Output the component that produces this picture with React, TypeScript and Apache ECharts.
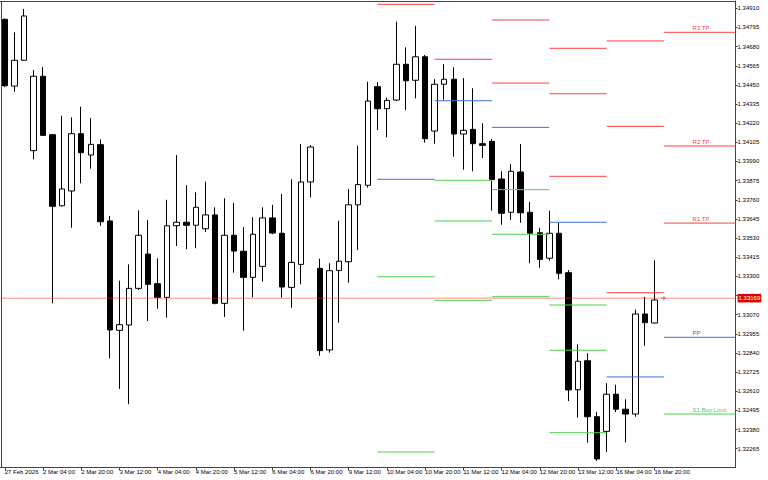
import React, { useEffect, useRef } from "react";
import * as echarts from "echarts";

const FONT = '"Liberation Sans", Arial, sans-serif';

// H4 candles: [open, high, low, close]
const candles: [number, number, number, number][] = [
  [1.34844, 1.3485, 1.34437, 1.34445],
  [1.34443, 1.34766, 1.34409, 1.34598],
  [1.34598, 1.34906, 1.34594, 1.34864],
  [1.34055, 1.34539, 1.34003, 1.34502],
  [1.34502, 1.34557, 1.34143, 1.34147],
  [1.34151, 1.34155, 1.33138, 1.33721],
  [1.33724, 1.34265, 1.3372, 1.33825],
  [1.33813, 1.34255, 1.33592, 1.34157],
  [1.34157, 1.34319, 1.33859, 1.34043],
  [1.34029, 1.34251, 1.33947, 1.34093],
  [1.34091, 1.34123, 1.33604, 1.33628],
  [1.33633, 1.33663, 1.32808, 1.32978],
  [1.32976, 1.33274, 1.32624, 1.3301],
  [1.33008, 1.33372, 1.32532, 1.33228],
  [1.33228, 1.33697, 1.33218, 1.33547],
  [1.33434, 1.33639, 1.33032, 1.33252],
  [1.33256, 1.33409, 1.33106, 1.33174],
  [1.33174, 1.3376, 1.33052, 1.33604],
  [1.33604, 1.34029, 1.33482, 1.33625],
  [1.33625, 1.33847, 1.33463, 1.33607],
  [1.33607, 1.33805, 1.33469, 1.33715],
  [1.33586, 1.33869, 1.33566, 1.33669],
  [1.33669, 1.33715, 1.33132, 1.33138],
  [1.33138, 1.33769, 1.33056, 1.33547],
  [1.33547, 1.33741, 1.33322, 1.33452],
  [1.33451, 1.33596, 1.32974, 1.33294],
  [1.33294, 1.33655, 1.33174, 1.33553],
  [1.3336, 1.33715, 1.33268, 1.33651],
  [1.33651, 1.3373, 1.33553, 1.3356],
  [1.33559, 1.33795, 1.33172, 1.33236],
  [1.33234, 1.33883, 1.33112, 1.33384],
  [1.33372, 1.34095, 1.33252, 1.33867],
  [1.33867, 1.34089, 1.33775, 1.34077],
  [1.33348, 1.33406, 1.32824, 1.32854],
  [1.32858, 1.33379, 1.32842, 1.33334],
  [1.33336, 1.33634, 1.33022, 1.33391],
  [1.33388, 1.33825, 1.33262, 1.3373],
  [1.3373, 1.34085, 1.33458, 1.33851],
  [1.33847, 1.34469, 1.33833, 1.34353],
  [1.34439, 1.34467, 1.34179, 1.34307],
  [1.34307, 1.34373, 1.34135, 1.34357],
  [1.34359, 1.3483, 1.34353, 1.34574],
  [1.34574, 1.34676, 1.34299, 1.34475],
  [1.34478, 1.34805, 1.34369, 1.34619],
  [1.34619, 1.3463, 1.34103, 1.34127],
  [1.34173, 1.34484, 1.34097, 1.34454],
  [1.34454, 1.34574, 1.34361, 1.34484],
  [1.34484, 1.34556, 1.34019, 1.34155],
  [1.34155, 1.34491, 1.33941, 1.34177],
  [1.34183, 1.3443, 1.33931, 1.34097],
  [1.34097, 1.34219, 1.34011, 1.34087],
  [1.34111, 1.34125, 1.33694, 1.33881],
  [1.33885, 1.33931, 1.3361, 1.33679],
  [1.33685, 1.33975, 1.33639, 1.33931],
  [1.33927, 1.34095, 1.33622, 1.33682],
  [1.33685, 1.33747, 1.33379, 1.33559],
  [1.33562, 1.33592, 1.33352, 1.33402],
  [1.33409, 1.33694, 1.33394, 1.33559],
  [1.33559, 1.33622, 1.33282, 1.33318],
  [1.33322, 1.33338, 1.32551, 1.32618],
  [1.32619, 1.32892, 1.32451, 1.3279],
  [1.32793, 1.32838, 1.32301, 1.32457],
  [1.32457, 1.32487, 1.32191, 1.32203],
  [1.32369, 1.32658, 1.32245, 1.32592],
  [1.32592, 1.32649, 1.32485, 1.32502],
  [1.32502, 1.32562, 1.32303, 1.32473],
  [1.32473, 1.331, 1.32457, 1.33074],
  [1.33074, 1.33176, 1.32882, 1.33022],
  [1.3302, 1.33396, 1.33017, 1.33158],
];

const currentPrice = 1.33169;

// Daily pivot segments: [startBar, endBar, price]
const resistanceLevels: [number, number, number][] = [
  [39, 45, 1.34934],
  [45, 51, 1.34604],
  [51, 57, 1.3484],
  [51, 57, 1.34461],
  [57, 63, 1.3467],
  [57, 63, 1.34397],
  [57, 63, 1.33901],
  [63, 69, 1.34714],
  [63, 69, 1.34201],
  [63, 69, 1.33202],
];
const pivotLevels: [number, number, number][] = [
  [39, 45, 1.33883],
  [45, 51, 1.34355],
  [51, 57, 1.34195],
  [57, 63, 1.33625],
  [63, 69, 1.32696],
];
const supportLevels: [number, number, number][] = [
  [39, 45, 1.33298],
  [39, 45, 1.32245],
  [45, 51, 1.33877],
  [45, 51, 1.33633],
  [45, 51, 1.33156],
  [51, 57, 1.33821],
  [51, 57, 1.33553],
  [51, 57, 1.33178],
  [57, 63, 1.33128],
  [57, 63, 1.32856],
  [57, 63, 1.32361],
];

// Labelled levels for the next session
const todayStartBar = 69;
const todayLabelBar = 72;
const todayNames = ["R3 TP", "R2 TP", "R1 TP", "PP", "S1 Buy Limit"];
const todayPrices = [1.34766, 1.34083, 1.3362, 1.32934, 1.32473];
const todayKinds = ["R", "R", "R", "P", "S"];

const xTickLabels = [
  "27 Feb 2026", "2 Mar 04:00", "2 Mar 20:00", "3 Mar 12:00", "4 Mar 04:00",
  "4 Mar 20:00", "5 Mar 12:00", "6 Mar 04:00", "6 Mar 20:00", "9 Mar 12:00",
  "10 Mar 04:00", "10 Mar 20:00", "11 Mar 12:00", "12 Mar 04:00", "12 Mar 20:00",
  "13 Mar 12:00", "16 Mar 04:00", "16 Mar 20:00",
];

const yTicks = [
  1.32265, 1.3238, 1.32495, 1.3261, 1.32725, 1.3284, 1.32955, 1.3307,
  1.33185, 1.333, 1.33415, 1.3353, 1.33645, 1.3376, 1.33875, 1.3399,
  1.34105, 1.3422, 1.34335, 1.3445, 1.34565, 1.3468, 1.34795, 1.3491,
];

const Y_MIN = 1.32152;
const Y_MAX = 1.34954;
const TOTAL_SLOTS = 77;

const COLORS: Record<string, string> = {
  R: "#ff4040",
  P: "#3f6fd8",
  S: "#4fd04f",
};

function buildCategories(): string[] {
  const months = ["Jan", "Feb", "Mar", "Apr"];
  const out: string[] = [];
  let t = Date.UTC(2026, 1, 27, 12);
  while (out.length < TOTAL_SLOTS) {
    const d = new Date(t);
    const wd = d.getUTCDay();
    if (wd !== 0 && wd !== 6) {
      const hh = String(d.getUTCHours()).padStart(2, "0");
      out.push(`${d.getUTCDate()} ${months[d.getUTCMonth()]} ${hh}:00`);
    }
    t += 4 * 3600 * 1000;
  }
  return out;
}

function levelSeries(name: string, rows: [number, number, number][], color: string) {
  return {
    name,
    type: "custom",
    z: 4,
    silent: true,
    clip: true,
    data: rows,
    encode: { x: [0, 1], y: 2 },
    renderItem: (_params: any, api: any) => {
      const a = api.coord([api.value(0), api.value(2)]);
      const b = api.coord([api.value(1), api.value(2)]);
      return {
        type: "line",
        shape: { x1: a[0], y1: a[1], x2: b[0], y2: a[1] },
        style: { stroke: color, lineWidth: 1 },
      };
    },
  };
}

export default function App() {
  const ref = useRef<HTMLDivElement>(null);

  useEffect(() => {
    if (!ref.current) return;
    const chart = echarts.init(ref.current, undefined, { renderer: "svg" });
    const categories = buildCategories();
    const lastBar = candles.length - 1;
    const showX = (i: number) => i % 4 === 0 && i <= lastBar;

    const option: any = {
      animation: false,
      backgroundColor: "#ffffff",
      grid: { left: -3.3, right: 32.4, top: 1, bottom: 12.5, containLabel: false },
      xAxis: {
        type: "category",
        data: categories,
        boundaryGap: true,
        axisLine: { show: true, lineStyle: { color: "#444", width: 1 } },
        axisTick: {
          show: true,
          alignWithLabel: true,
          length: 3,
          interval: (i: number) => showX(i),
          lineStyle: { color: "#444" },
        },
        axisLabel: {
          show: true,
          interval: (i: number) => showX(i),
          formatter: (_v: string, i: number) => (showX(i) ? xTickLabels[i / 4] || "" : ""),
          align: "left",
          margin: 1,
          fontSize: 6,
          fontFamily: FONT,
          color: "#000",
        },
        splitLine: { show: false },
      },
      yAxis: {
        type: "value",
        position: "right",
        min: Y_MIN,
        max: Y_MAX,
        axisLine: { show: true, lineStyle: { color: "#444", width: 1 } },
        axisTick: { show: true, length: 2, customValues: yTicks, lineStyle: { color: "#444" } },
        axisLabel: {
          customValues: yTicks,
          formatter: (v: number) => v.toFixed(5),
          margin: 2,
          fontSize: 6,
          fontFamily: FONT,
          color: "#000",
        },
        splitLine: { show: false },
      },
      graphic: [
        { type: "line", z: 100, shape: { x1: 0, y1: 1.5, x2: 736, y2: 1.5 }, style: { stroke: "#444", lineWidth: 1 } },
        { type: "line", z: 100, shape: { x1: 1.5, y1: 1, x2: 1.5, y2: 468 }, style: { stroke: "#444", lineWidth: 1 } },
      ],
      series: [
        {
          name: "Price",
          type: "candlestick",
          z: 2,
          barWidth: 6,
          data: candles.map(([o, h, l, c]) => [o, c, l, h]),
          itemStyle: {
            color: "#ffffff",
            color0: "#000000",
            borderColor: "#000000",
            borderColor0: "#000000",
            borderWidth: 1,
          },
        },
        levelSeries("Resistance", resistanceLevels, COLORS.R),
        levelSeries("Pivot", pivotLevels, COLORS.P),
        levelSeries("Support", supportLevels, COLORS.S),
        {
          name: "Next levels",
          type: "custom",
          z: 5,
          silent: true,
          data: todayPrices.map((p) => [todayStartBar, p]),
          encode: { x: 0, y: 1 },
          renderItem: (params: any, api: any) => {
            const i = params.dataIndex;
            const color = COLORS[todayKinds[i]];
            const a = api.coord([api.value(0), api.value(1)]);
            const endX = params.coordSys.x + params.coordSys.width;
            const tx = api.coord([todayLabelBar, api.value(1)])[0];
            return {
              type: "group",
              children: [
                {
                  type: "line",
                  shape: { x1: a[0], y1: a[1], x2: endX, y2: a[1] },
                  style: { stroke: color, lineWidth: 1 },
                },
                {
                  type: "text",
                  x: tx,
                  y: a[1] - 1,
                  style: {
                    text: todayNames[i],
                    fill: color,
                    fontSize: 6,
                    fontFamily: FONT,
                    align: "left",
                    verticalAlign: "bottom",
                    textAlign: "left",
                    textVerticalAlign: "bottom",
                  },
                },
              ],
            };
          },
        },
        {
          name: "Bid line",
          type: "custom",
          z: 6,
          silent: true,
          clip: false,
          data: [[0, currentPrice]],
          encode: { x: 0, y: 1 },
          renderItem: (params: any, api: any) => {
            const y = api.coord([api.value(0), api.value(1)])[1];
            const cs = params.coordSys;
            const right = cs.x + cs.width;
            return {
              type: "group",
              children: [
                {
                  type: "line",
                  shape: { x1: 1, y1: y, x2: right, y2: y },
                  style: { stroke: "#ff3030", opacity: 0.55, lineWidth: 1 },
                },
                {
                  type: "text",
                  x: right + 2,
                  y: y,
                  style: {
                    text: api.value(1).toFixed(5),
                    fill: "#ffffff",
                    backgroundColor: "#e00000",
                    padding: [1.5, 1, 1, 1],
                    fontSize: 6,
                    fontFamily: FONT,
                    align: "left",
                    verticalAlign: "middle",
                    textAlign: "left",
                    textVerticalAlign: "middle",
                  },
                },
              ],
            };
          },
        },
        {
          name: "Marker",
          type: "scatter",
          z: 7,
          silent: true,
          data: [[todayStartBar, currentPrice]],
          symbol: "path://M0,3H6M3,0V6",
          symbolSize: 5,
          itemStyle: { color: "none", borderColor: "#777", borderWidth: 1 },
        },
      ],
    };

    chart.setOption(option);
    return () => chart.dispose();
  }, []);

  return (
    <div
      ref={ref}
      style={{ position: "fixed", left: 0, top: 0, width: 768, height: 480, background: "#fff" }}
    />
  );
}
